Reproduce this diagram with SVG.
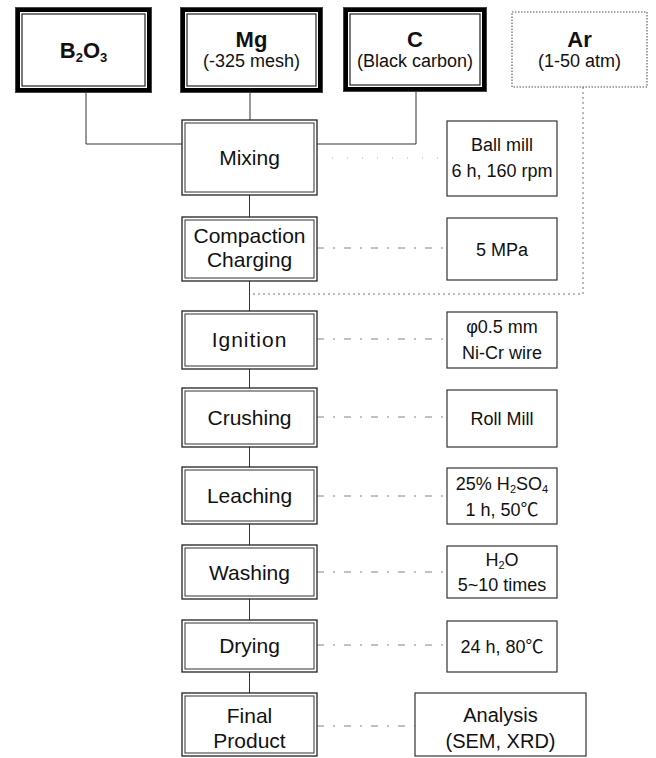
<svg xmlns="http://www.w3.org/2000/svg" width="656" height="758" viewBox="0 0 656 758">
<style>
text{font-family:"Liberation Sans","Noto Sans CJK KR",Arial,sans-serif;fill:#111;text-anchor:middle}
.p{font-size:21px}
.r{font-size:18px}
.a{font-size:20px}
.b{font-size:22px;font-weight:bold}
.bs{font-size:13px;font-weight:bold}
.ss{font-size:11px}
.o1{fill:#fff;stroke:#222;stroke-width:1.3}
.o2{fill:none;stroke:#333;stroke-width:1}
.t1{fill:#fff;stroke:#000;stroke-width:5}
.t0{fill:none;stroke:#444;stroke-width:1}
.t2{fill:none;stroke:#222;stroke-width:1.2}
.rb{fill:#fff;stroke:#333;stroke-width:1.2}
.dot{fill:#fff;stroke:#555;stroke-width:1.1;stroke-dasharray:1.5 1.5}
.ln{fill:none;stroke:#333;stroke-width:1}
.dl{fill:none;stroke:#777;stroke-width:0.9;stroke-dasharray:7 9 2 9}
.fl{fill:none;stroke:#999;stroke-width:0.8;stroke-dasharray:1 14}
.al{fill:none;stroke:#777;stroke-width:1;stroke-dasharray:2 3}
</style>
<g id="connectors">
<path class="ln" d="M86 93V144H182M250 93V120M416 92V144H317"/>
<path class="ln" d="M249.5 195V217M249.5 281V311M249.5 369V388M249.5 447V467M249.5 524V545M249.5 599V620M249.5 672V693"/>
<path class="al" d="M583 87V294H250"/>
<path class="fl" d="M317 158H447"/>
<path class="dl" d="M317 248H447M317 339H447M317 417H447M317 496H447M317 572H447M317 645H447M317 726H415"/>
</g>
<g id="b2o3">
<rect class="t1" x="17.5" y="9.5" width="132" height="81"/>
<rect class="t0" x="15.5" y="7.5" width="136" height="85"/>
<rect class="t2" x="22" y="14" width="123" height="72"/>
<text class="b" x="83.5" y="58">B<tspan class="bs" dy="4">2</tspan><tspan dy="-4">O</tspan><tspan class="bs" dy="4">3</tspan></text>
</g>
<g id="mg">
<rect class="t1" x="182.5" y="9.5" width="138" height="81"/>
<rect class="t0" x="180.5" y="7.5" width="142" height="85"/>
<rect class="t2" x="187" y="14" width="129" height="72"/>
<text class="b" x="251.5" y="47">Mg</text>
<text class="r" x="251.5" y="67">(-325 mesh)</text>
</g>
<g id="c">
<rect class="t1" x="345.5" y="9.5" width="139" height="80"/>
<rect class="t0" x="343.5" y="7.5" width="143" height="84"/>
<rect class="t2" x="350" y="14" width="130" height="71"/>
<text class="b" x="415" y="47">C</text>
<text class="r" x="415" y="67">(Black carbon)</text>
</g>
<g id="ar">
<rect class="dot" x="512" y="12" width="135" height="75"/>
<text class="b" x="579.5" y="47">Ar</text>
<text class="r" x="579.5" y="67">(1-50 atm)</text>
</g>
<g id="mixing">
<rect class="o1" x="182" y="120" width="135" height="75"/>
<rect class="o2" x="185" y="123" width="129" height="69"/>
<text class="p" x="249.5" y="165">Mixing</text>
</g>
<g id="compaction">
<rect class="o1" x="182" y="217" width="135" height="64"/>
<rect class="o2" x="185" y="220" width="129" height="58"/>
<text class="p" x="249.5" y="243">Compaction</text>
<text class="p" x="249.5" y="267">Charging</text>
</g>
<g id="ignition">
<rect class="o1" x="182" y="311" width="135" height="58"/>
<rect class="o2" x="185" y="314" width="129" height="52"/>
<text class="p" x="249.5" y="347" style="letter-spacing:1px">Ignition</text>
</g>
<g id="crushing">
<rect class="o1" x="182" y="388" width="135" height="59"/>
<rect class="o2" x="185" y="391" width="129" height="53"/>
<text class="p" x="249.5" y="425">Crushing</text>
</g>
<g id="leaching">
<rect class="o1" x="182" y="467" width="135" height="57"/>
<rect class="o2" x="185" y="470" width="129" height="51"/>
<text class="p" x="249.5" y="503">Leaching</text>
</g>
<g id="washing">
<rect class="o1" x="182" y="545" width="135" height="54"/>
<rect class="o2" x="185" y="548" width="129" height="48"/>
<text class="p" x="249.5" y="580">Washing</text>
</g>
<g id="drying">
<rect class="o1" x="182" y="620" width="135" height="52"/>
<rect class="o2" x="185" y="623" width="129" height="46"/>
<text class="p" x="249.5" y="653">Drying</text>
</g>
<g id="final">
<rect class="o1" x="182" y="693" width="135" height="63"/>
<rect class="o2" x="185" y="696" width="129" height="57"/>
<text class="p" x="249.5" y="723">Final</text>
<text class="p" x="249.5" y="748">Product</text>
</g>
<g id="ballmill">
<rect class="rb" x="447" y="121" width="110" height="75"/>
<text class="r" x="502" y="151">Ball mill</text>
<text class="r" x="502" y="177">6 h, 160 rpm</text>
</g>
<g id="mpa">
<rect class="rb" x="447" y="218" width="110" height="62"/>
<text class="r" x="502" y="256">5 MPa</text>
</g>
<g id="wire">
<rect class="rb" x="447" y="312" width="110" height="56"/>
<text class="r" x="502" y="333">φ0.5 mm</text>
<text class="r" x="502" y="359">Ni-Cr wire</text>
</g>
<g id="rollmill">
<rect class="rb" x="447" y="390" width="110" height="57"/>
<text class="r" x="502" y="425">Roll Mill</text>
</g>
<g id="acid">
<rect class="rb" x="447" y="468" width="110" height="56"/>
<text class="r" x="502" y="490">25% H<tspan class="ss" dy="3">2</tspan><tspan dy="-3">SO</tspan><tspan class="ss" dy="3">4</tspan></text>
<text class="r" x="502" y="516">1 h, 50℃</text>
</g>
<g id="water">
<rect class="rb" x="447" y="546" width="110" height="52"/>
<text class="r" x="502" y="566">H<tspan class="ss" dy="3">2</tspan><tspan dy="-3">O</tspan></text>
<text class="r" x="502" y="591">5~10 times</text>
</g>
<g id="dry">
<rect class="rb" x="447" y="621" width="110" height="51"/>
<text class="r" x="502" y="653">24 h, 80℃</text>
</g>
<g id="analysis">
<rect class="rb" x="415" y="693" width="171" height="63"/>
<text class="a" x="500.5" y="722">Analysis</text>
<text class="a" x="500.5" y="748">(SEM, XRD)</text>
</g>
</svg>
